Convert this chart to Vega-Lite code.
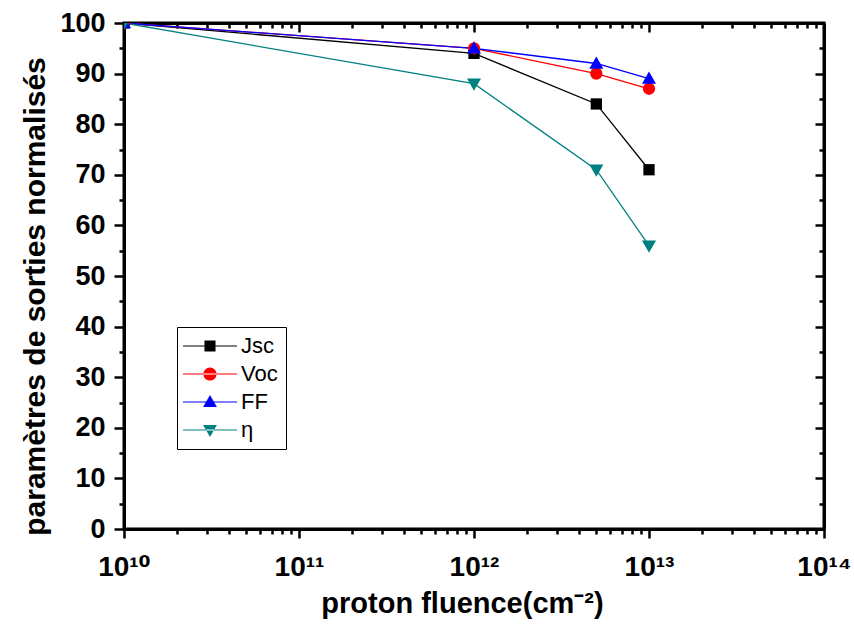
{
  "$schema": "https://vega.github.io/schema/vega-lite/v6.json",
  "width": 700,
  "height": 506,
  "autosize": {"type": "none"},
  "padding": {"left": 124, "top": 23, "right": 30, "bottom": 95},
  "background": "white",
  "config": {
    "font": "Liberation Sans",
    "view": {"stroke": "black", "strokeWidth": 3},
    "axis": {"domainColor": "black", "domainWidth": 3, "tickColor": "black", "tickWidth": 2.5, "grid": false, "labelColor": "black", "titleColor": "black"}
  },
  "data": {
    "values": [
      {"fluence": 1e10, "value": 100, "param": "Jsc"},
      {"fluence": 1e12, "value": 94, "param": "Jsc"},
      {"fluence": 5e12, "value": 84, "param": "Jsc"},
      {"fluence": 1e13, "value": 71, "param": "Jsc"},
      {"fluence": 1e10, "value": 100, "param": "Voc"},
      {"fluence": 1e12, "value": 95, "param": "Voc"},
      {"fluence": 5e12, "value": 90, "param": "Voc"},
      {"fluence": 1e13, "value": 87, "param": "Voc"},
      {"fluence": 1e10, "value": 100, "param": "FF"},
      {"fluence": 1e12, "value": 95, "param": "FF"},
      {"fluence": 5e12, "value": 92, "param": "FF"},
      {"fluence": 1e13, "value": 89, "param": "FF"},
      {"fluence": 1e10, "value": 100, "param": "η"},
      {"fluence": 1e12, "value": 88, "param": "η"},
      {"fluence": 5e12, "value": 71, "param": "η"},
      {"fluence": 1e13, "value": 56, "param": "η"}
    ]
  },
  "layer": [
    {
      "encoding": {
        "x": {
          "field": "fluence", "type": "quantitative",
          "scale": {"type": "log", "domain": [1e10, 1e14], "nice": false},
          "axis": {
            "orient": "bottom",
            "title": "proton fluence(cm⁻²)",
            "titleFont": "Liberation Sans", "titleFontSize": 29, "titleFontWeight": "bold",
            "titleX": 338, "titleY": 83, "titleBaseline": "alphabetic", "titleAnchor": null,
            "values": [1e10, 1e11, 1e12, 1e13, 1e14],
            "labelExpr": "datum.value == 1e10 ? '10¹⁰' : datum.value == 1e11 ? '10¹¹' : datum.value == 1e12 ? '10¹²' : datum.value == 1e13 ? '10¹³' : '10¹⁴'",
            "labelFont": "Liberation Sans, DejaVu Sans",
            "labelFontSize": 28, "labelFontWeight": "bold", "labelBaseline": "alphabetic",
            "labelPadding": 37, "tickSize": 9, "labelFlush": false, "labelOverlap": false, "labelBound": false
          }
        },
        "y": {
          "field": "value", "type": "quantitative",
          "scale": {"domain": [0, 100], "nice": false, "zero": false},
          "axis": {
            "orient": "left",
            "title": "paramètres de sorties normalisés",
            "titleFont": "Liberation Sans", "titleFontSize": 30, "titleFontWeight": "bold",
            "titleX": -80, "titleY": 273, "titleBaseline": "alphabetic", "titleAnchor": null, "titleAngle": -90,
            "values": [0, 10, 20, 30, 40, 50, 60, 70, 80, 90, 100],
            "labelFontSize": 27, "labelFontWeight": "bold", "labelPadding": 9, "tickSize": 10,
            "labelOverlap": false, "labelFlush": false, "labelBound": false
          }
        },
        "color": {
          "field": "param", "type": "nominal",
          "scale": {"domain": ["Jsc", "Voc", "FF", "η"], "range": ["#000000", "#ff0000", "#0000ff", "#008080"]},
          "legend": {
            "orient": "none", "legendX": 53, "legendY": 304, "title": null,
            "strokeColor": "black", "padding": 8, "symbolSize": 144, "symbolOffset": 14,
            "labelOffset": 20, "labelFontSize": 22, "labelFont": "Liberation Sans", "labelColor": "black",
            "rowPadding": 6, "symbolStrokeWidth": 0,
            "encode": {"symbols": {"update": {
              "shape": {"signal": "datum.value == 'Jsc' ? 'M-4.5,-0.09H4.5V0.09H-4.5Z M-0.92,-0.92H0.92V0.92H-0.92Z' : datum.value == 'Voc' ? 'M-4.5,-0.09H4.5V0.09H-4.5Z M-1.1,0A1.1,1.1 0 1,0 1.1,0A1.1,1.1 0 1,0 -1.1,0Z' : datum.value == 'FF' ? 'M-4.5,-0.09H4.5V0.09H-4.5Z M0,-1.15L1.15,0.85L-1.15,0.85Z' : 'M-4.5,-0.09H4.5V0.09H-4.5Z M0,1.15L1.15,-0.85L-1.15,-0.85Z'"},
              "fill": {"signal": "scale('color', datum.value)"},
              "fillOpacity": {"value": 1},
              "strokeWidth": {"value": 0}
            }}}
          }
        }
      },
      "layer": [
        {"mark": {"type": "line", "strokeWidth": 1.3, "clip": true}},
        {
          "transform": [{"filter": "datum.param == 'Jsc'"}],
          "mark": {"type": "point", "filled": true, "opacity": 1, "size": 150, "clip": true, "shape": "M-0.92,-0.92H0.92V0.92H-0.92Z"}
        },
        {
          "transform": [{"filter": "datum.param == 'Voc'"}],
          "mark": {"type": "point", "filled": true, "opacity": 1, "size": 150, "clip": true, "shape": "circle"}
        },
        {
          "transform": [{"filter": "datum.param == 'FF'"}],
          "mark": {"type": "point", "filled": true, "opacity": 1, "size": 150, "clip": true, "shape": "M0,-1.15L1.15,0.85L-1.15,0.85Z"}
        },
        {
          "transform": [{"filter": "datum.param == 'η'"}],
          "mark": {"type": "point", "filled": true, "opacity": 1, "size": 150, "clip": true, "shape": "M0,1.15L1.15,-0.85L-1.15,-0.85Z"}
        }
      ]
    },
    {
      "mark": {"type": "point", "opacity": 0},
      "encoding": {
        "x": {
          "field": "fluence", "type": "quantitative",
          "scale": {"type": "log", "domain": [1e10, 1e14], "nice": false},
          "axis": {
            "orient": "bottom", "title": null, "labels": false, "domain": false, "tickSize": 5,
            "values": [2e10, 3e10, 4e10, 5e10, 6e10, 7e10, 8e10, 9e10, 2e11, 3e11, 4e11, 5e11, 6e11, 7e11, 8e11, 9e11, 2e12, 3e12, 4e12, 5e12, 6e12, 7e12, 8e12, 9e12, 2e13, 3e13, 4e13, 5e13, 6e13, 7e13, 8e13, 9e13]
          }
        },
        "y": {
          "field": "value", "type": "quantitative",
          "scale": {"domain": [0, 100], "nice": false, "zero": false},
          "axis": {
            "orient": "left", "title": null, "labels": false, "domain": false, "tickSize": 5,
            "values": [5, 15, 25, 35, 45, 55, 65, 75, 85, 95]
          }
        }
      }
    },
    {
      "mark": {"type": "point", "opacity": 0},
      "encoding": {
        "x": {
          "field": "fluence", "type": "quantitative",
          "scale": {"type": "log", "domain": [1e10, 1e14], "nice": false},
          "axis": {
            "orient": "top", "title": null, "labels": false, "tickSize": -9,
            "values": [1e10, 1e11, 1e12, 1e13, 1e14]
          }
        },
        "y": {
          "field": "value", "type": "quantitative",
          "scale": {"domain": [0, 100], "nice": false, "zero": false},
          "axis": {
            "orient": "right", "title": null, "labels": false, "tickSize": -9,
            "values": [0, 10, 20, 30, 40, 50, 60, 70, 80, 90, 100]
          }
        }
      }
    },
    {
      "mark": {"type": "point", "opacity": 0},
      "encoding": {
        "x": {
          "field": "fluence", "type": "quantitative",
          "scale": {"type": "log", "domain": [1e10, 1e14], "nice": false},
          "axis": {
            "orient": "top", "title": null, "labels": false, "domain": false, "tickSize": -5,
            "values": [2e10, 3e10, 4e10, 5e10, 6e10, 7e10, 8e10, 9e10, 2e11, 3e11, 4e11, 5e11, 6e11, 7e11, 8e11, 9e11, 2e12, 3e12, 4e12, 5e12, 6e12, 7e12, 8e12, 9e12, 2e13, 3e13, 4e13, 5e13, 6e13, 7e13, 8e13, 9e13]
          }
        },
        "y": {
          "field": "value", "type": "quantitative",
          "scale": {"domain": [0, 100], "nice": false, "zero": false},
          "axis": {
            "orient": "right", "title": null, "labels": false, "domain": false, "tickSize": -5,
            "values": [5, 15, 25, 35, 45, 55, 65, 75, 85, 95]
          }
        }
      }
    }
  ],
  "resolve": {"axis": {"x": "independent", "y": "independent"}}
}
